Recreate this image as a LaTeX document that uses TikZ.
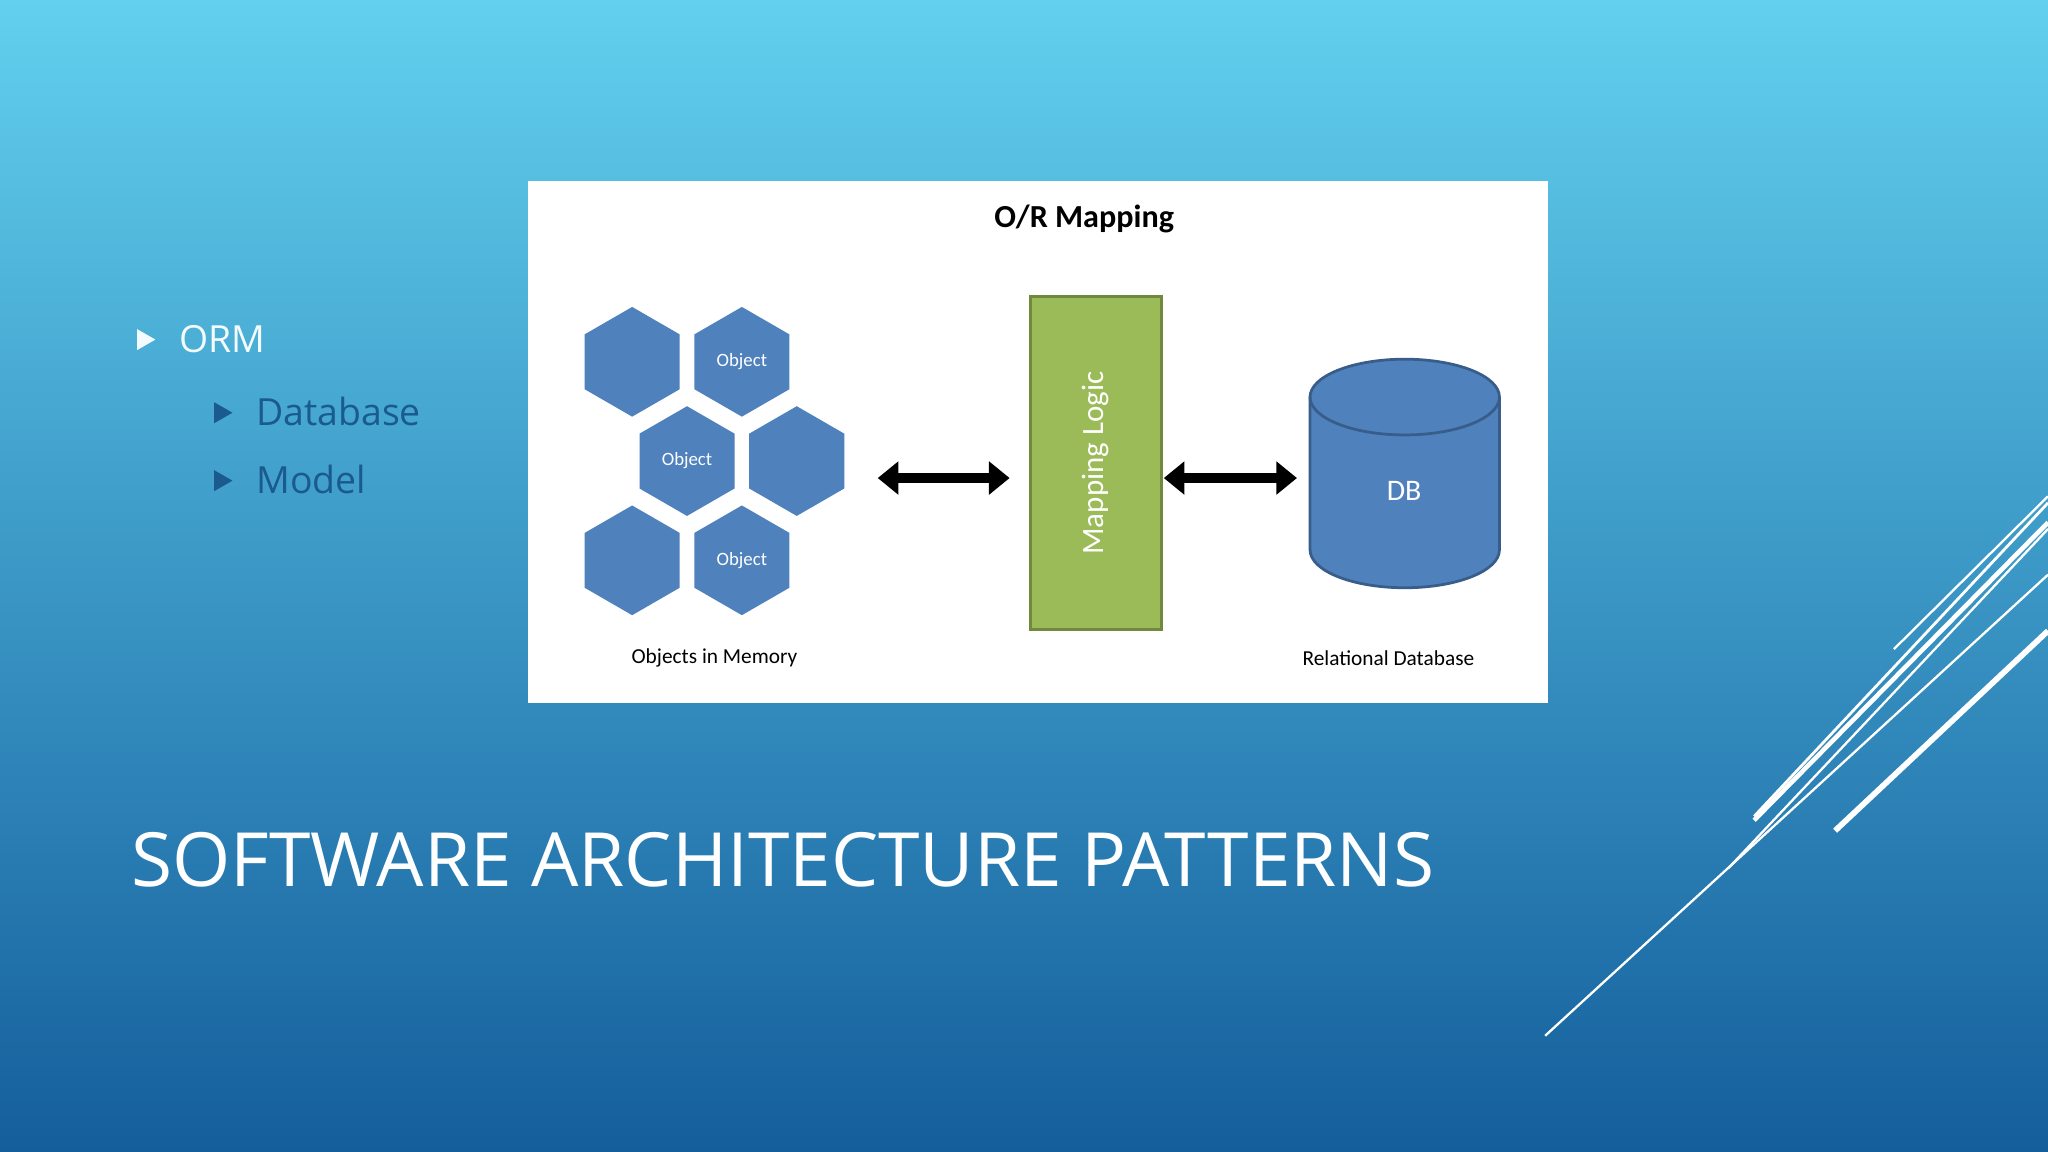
\documentclass[tikz,border=0pt]{standalone}
\usepackage{fontspec}
\setmainfont{Open Sans}
\newfontfamily\carfont{Carlito}
\usetikzlibrary{shapes.geometric,arrows.meta}
\definecolor{bgtop}{HTML}{62D0EE}
\definecolor{bgbot}{HTML}{145E9C}
\definecolor{hexb}{HTML}{4F81BD}
\definecolor{hexs}{HTML}{385D8A}
\definecolor{grn}{HTML}{9BBB59}
\definecolor{grns}{HTML}{71893F}
\definecolor{bul}{HTML}{1A5A8C}
\begin{document}
\begin{tikzpicture}[x=0.02cm,y=-0.02cm,
 hex/.style={regular polygon,regular polygon sides=6,shape border rotate=30,minimum size=84*0.02cm,inner sep=0,fill=hexb,draw=none,text=white,font=\carfont\fontsize{8.2}{9}\selectfont},
 dbl/.style={line width=4.5pt,{Triangle[length=9pt,width=14pt]}-{Triangle[length=9pt,width=14pt]}},
 lbl/.style={font=\carfont\fontsize{9.3}{11}\selectfont,text=black},
 bl/.style={font=\fontsize{16.3}{20}\selectfont,anchor=west},
 tri/.style={fill=#1,draw=none}]
\useasboundingbox (0,0) rectangle (1568,882);
\shade[top color=bgtop,bottom color=bgbot] (0,0) rectangle (1568,882);
% white panel
\node[fill=white,minimum width=781*0.02cm,minimum height=400*0.02cm,inner sep=0,anchor=north west] (panel) at (404,138) {};
\node[font=\carfont\bfseries\fontsize{14}{16}\selectfont] (title) at (830,168) {O/R Mapping};
% hexagons
\node[hex] (h1) at (484,277) {};
\node[hex] (h2) at (568,277) {Object};
\node[hex] (h3) at (526,353) {Object};
\node[hex] (h4) at (610,353) {};
\node[hex] (h5) at (484,429) {};
\node[hex] (h6) at (568,429) {Object};
\node[lbl] (l1) at (547,504) {Objects in Memory};
% mapping logic
\node[fill=grn,draw=grns,line width=1.2pt,minimum width=100*0.02cm,minimum height=255*0.02cm,inner sep=0] (map) at (839,354.5) {};
\node[rotate=90,text=white,font=\carfont\fontsize{13.5}{15}\selectfont] (mapt) at (839,354.5) {Mapping Logic};
% cylinder (drawn directly)
\filldraw[fill=hexb,draw=hexs,line width=1.2pt]
  (1003,304) -- (1003,421) arc[start angle=180,end angle=360,x radius=72.5,y radius=-29]
  -- (1148,304) arc[start angle=0,end angle=180,x radius=72.5,y radius=-29] -- cycle;
\draw[hexs,line width=1.2pt] (1003,304) arc[start angle=180,end angle=360,x radius=72.5,y radius=-29];
\node[text=white,font=\carfont\fontsize{13}{15}\selectfont] (dbt) at (1075,376) {DB};
\node[lbl] (l2) at (1063,504) {Relational Database};
% arrows
\coordinate (a1) at (672,366); \coordinate (a2) at (773,366);
\coordinate (b1) at (891,366); \coordinate (b2) at (993,366);
\draw[dbl] (a1) -- (a2);
\draw[dbl] (b1) -- (b2);
% bullets
\fill[tri=white!92!bgtop] (105,252) -- (119,260) -- (105,268) -- cycle;
\node[bl,text=white!92!bgtop] (orm) at (131,260) {ORM};
\fill[tri=bul] (164,308) -- (178,316) -- (164,324) -- cycle;
\node[bl,text=bul] (dbb) at (190,315) {Database};
\fill[tri=bul] (164,360) -- (178,368) -- (164,376) -- cycle;
\node[bl,text=bul] (mdl) at (190,367) {Model};
% title
\node[anchor=base west,text=white,font=\fontsize{32.6}{38}\selectfont,inner sep=0] (ttl) at (100,679) {SOFTWARE ARCHITECTURE PATTERNS};
% decorative lines
\draw[white,line width=1pt] (1183,793) -- (1568,440);
\draw[white,line width=1pt] (1323,665) -- (1568,405);
\draw[white,line width=2pt] (1343,628) -- (1568,400);
\draw[white,line width=1.2pt] (1343,625) -- (1568,385);
\draw[white,line width=2.5pt] (1405,636) -- (1568,483);
\draw[white,line width=1pt] (1450,497) -- (1568,380);
\end{tikzpicture}
\end{document}
